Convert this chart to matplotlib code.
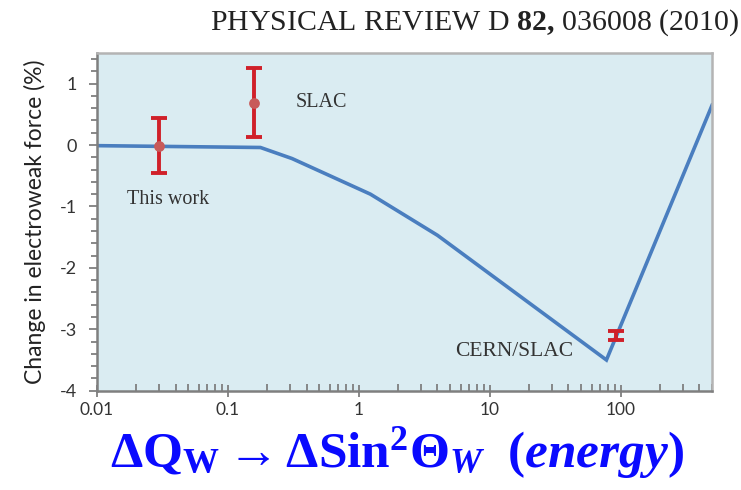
import numpy as np
import matplotlib.pyplot as plt
from matplotlib.ticker import LogLocator, MultipleLocator

# Curva del cambio en la fuerza electrodebil
curve_x = [0.01, 0.178, 0.31, 1.23, 4.0, 78, 500]
curve_y = [-0.01, -0.04, -0.22, -0.80, -1.47, -3.50, 0.65]

# Medidas con barras de error
meas_names = ["This work", "SLAC", "CERN/SLAC"]
meas_x = [0.030, 0.16, 92.5]
meas_y = [-0.01, 0.69, -3.10]
meas_err = [0.45, 0.56, 0.07]

x_ticks = [0.01, 0.1, 1, 10, 100]
x_ticklabels = ["0.01", "0.1", "1", "10", "100"]
y_ticks = [1, 0, -1, -2, -3, -4]

plt.rcParams['axes.unicode_minus'] = False
plt.rcParams['mathtext.fontset'] = 'custom'
plt.rcParams['mathtext.rm'] = 'Liberation Serif'
plt.rcParams['mathtext.bf'] = 'Liberation Serif:bold'
plt.rcParams['mathtext.it'] = 'Liberation Serif:italic'
plt.rcParams['mathtext.bfit'] = 'Liberation Serif:bold:italic'

fig = plt.figure(figsize=(7.41, 4.90), dpi=100)
ax = fig.add_axes([0.1305, 0.2027, 0.8305, 0.6893])
ax.set_facecolor('#daecf2')

# Linea azul
ax.plot(curve_x, curve_y, color='#4a7ebf', lw=2.6, solid_joinstyle='miter', zorder=2)

# Barras de error y puntos
ax.errorbar(meas_x, meas_y, yerr=meas_err, fmt='none', ecolor='#d0202a',
            elinewidth=2.8, capsize=5.5, capthick=2.8, zorder=3)
ax.scatter(meas_x[:2], meas_y[:2], s=60, color='#c85a5a', zorder=4, linewidths=0)

# Etiquetas
serif = 'Liberation Serif'
ax.text(0.0351, -0.88, meas_names[0], fontsize=14.5, family=serif, color='#333333',
        ha='center', va='center')
ax.text(0.52, 0.70, meas_names[1], fontsize=14.5, family=serif, color='#333333',
        ha='center', va='center')
ax.text(15.3, -3.37, meas_names[2], fontsize=15.5, family=serif, color='#333333',
        ha='center', va='center')

# Ejes
ax.set_xscale('log')
ax.set_xlim(0.01, 500)
ax.set_ylim(-4, 1.5)
ax.set_xticks(x_ticks)
ax.set_xticklabels(x_ticklabels)
ax.xaxis.set_minor_locator(LogLocator(base=10, subs=np.arange(2, 10)))
ax.xaxis.set_minor_formatter(plt.NullFormatter())
ax.set_yticks(y_ticks)
ax.yaxis.set_minor_locator(MultipleLocator(0.2))

for s in ['left', 'bottom']:
    ax.spines[s].set_color('#7f7f7f')
    ax.spines[s].set_linewidth(1.8)
for s in ['top', 'right']:
    ax.spines[s].set_color('#b4b4b4')
    ax.spines[s].set_linewidth(1.8)

ax.tick_params(axis='x', which='major', direction='inout', length=9, width=1.3,
               color='#7f7f7f', labelsize=12.5, labelcolor='#333333', pad=4)
ax.tick_params(axis='x', which='minor', direction='in', length=5, width=1.3,
               color='#7f7f7f')
ax.tick_params(axis='y', which='major', direction='out', length=6, width=1.3,
               color='#7f7f7f', labelsize=13, labelcolor='#333333', pad=8)
ax.tick_params(axis='y', which='minor', direction='out', length=4, width=1.3,
               color='#7f7f7f')
for lab in ax.get_xticklabels() + ax.get_yticklabels():
    lab.set_family('Lato')

ax.set_ylabel('Change in electroweak force (%)', fontsize=16.5, family='Lato',
              color='#222222', labelpad=10)

# Cabecera de la revista
fig.text(0.997, 0.953, r'PHYSICAL REVIEW D $\mathbf{82,}\,$036008 (2010)',
         fontsize=21.5, family=serif, color='#222222', ha='right', va='center')

# Formula en azul
fig.text(0.536, 0.075,
         r'$\mathbf{\Delta Q_W \rightarrow \Delta Sin^2\Theta}_{\mathbfit{W}}\ \ \mathbf{(}\mathbfit{energy}\mathbf{)}$',
         fontsize=37, color='#0a0aff', ha='center', va='center')

fig.savefig('out.png', dpi=100)
